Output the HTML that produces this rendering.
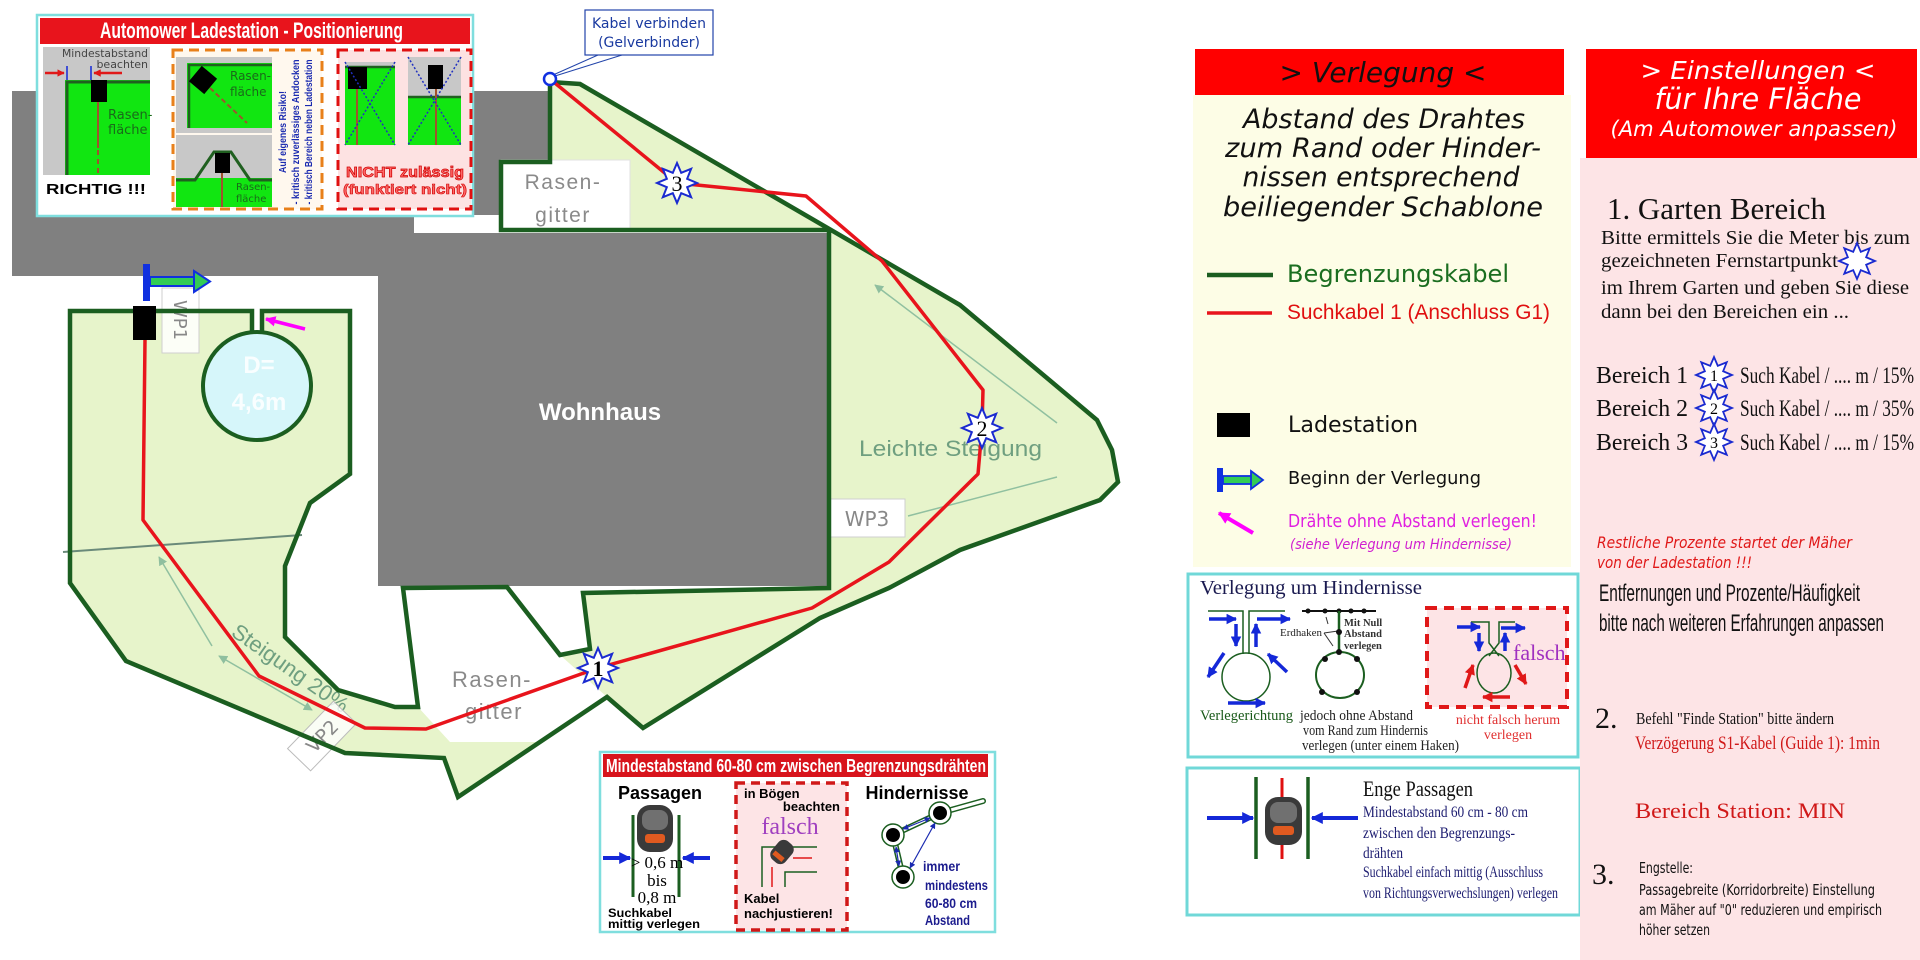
<!DOCTYPE html>
<html><head><meta charset="utf-8">
<style>
html,body{margin:0;padding:0;background:#fff;width:1920px;height:960px;overflow:hidden}
.s{font-family:"Liberation Sans","DejaVu Sans",sans-serif}
.d{font-family:"DejaVu Sans","Liberation Sans",sans-serif}
.r{font-family:"Liberation Serif","DejaVu Serif",serif}
</style></head><body>
<svg width="1920" height="960" viewBox="0 0 1920 960" xmlns="http://www.w3.org/2000/svg">
<defs>
<polygon id="star" points="0,-20 4.21,-10.16 14.14,-14.14 10.16,-4.21 20,0 10.16,4.21 14.14,14.14 4.21,10.16 0,20 -4.21,10.16 -14.14,14.14 -10.16,4.21 -20,0 -10.16,-4.21 -14.14,-14.14 -4.21,-10.16"/>
<marker id="mb" viewBox="0 0 10 10" refX="9" refY="5" markerWidth="3" markerHeight="3" orient="auto-start-reverse"><path d="M0,0L10,5L0,10z" fill="#1428d8"/></marker>
<marker id="mr" viewBox="0 0 10 10" refX="9" refY="5" markerWidth="3" markerHeight="3" orient="auto-start-reverse"><path d="M0,0L10,5L0,10z" fill="#e01818"/></marker>
<marker id="mm" viewBox="0 0 10 10" refX="9" refY="5" markerWidth="3" markerHeight="3" orient="auto-start-reverse"><path d="M0,0L10,5L0,10z" fill="#ff00ff"/></marker>
<marker id="mg" viewBox="0 0 10 10" refX="9" refY="5" markerWidth="6" markerHeight="6" orient="auto-start-reverse"><path d="M0,0L10,5L0,10z" fill="#8fbf9f"/></marker>
<marker id="mn" viewBox="0 0 10 10" refX="9" refY="5" markerWidth="5" markerHeight="5" orient="auto-start-reverse"><path d="M0,0L10,5L0,10z" fill="#1a2ab0"/></marker>
</defs>

<!-- ================= MAP ================= -->
<polygon points="12,91 550,91 550,162 501,162 501,215 414,215 414,234 378,234 378,276 12,276" fill="#808080"/>
<rect x="378" y="233" width="451" height="353" fill="#808080"/>

<polygon points="70,311 252,311 252,334 262,334 262,311 350,311 350,474 310,503 285,566 285,637 338,690 395,707 418,707 403,588 507,587 560,655 590,649 583,593 829,588 829,230 501,230 501,162 550,162 550,82 580,84 960,305 1097,420 1112,450 1118,482 1100,500 960,550 889,588 820,618 643,728 607,697 458,797 444,758 345,753 126,661 70,583" fill="#e7f4cb"/>
<polygon points="403,588 507,587 560,655 607,697 540,742 450,742 418,707" fill="#fff"/>
<rect x="501" y="160" width="129" height="70" fill="#fff" stroke="#e2e2e2" stroke-width="1"/>

<text x="563" y="189" class="s" font-size="21" fill="#8a8a8a" text-anchor="middle" letter-spacing="1.5">Rasen-</text>
<text x="563" y="222" class="s" font-size="21" fill="#8a8a8a" text-anchor="middle" letter-spacing="1.5">gitter</text>
<text x="492" y="687" class="s" font-size="22" fill="#8a8a8a" text-anchor="middle" letter-spacing="1.5">Rasen-</text>
<text x="494" y="719" class="s" font-size="22" fill="#8a8a8a" text-anchor="middle" letter-spacing="1.5">gitter</text>

<line x1="63" y1="552" x2="302" y2="535" stroke="#6a8a7a" stroke-width="2"/>
<line x1="212" y1="646" x2="159" y2="557" stroke="#90c0a0" stroke-width="1.5" marker-end="url(#mg)"/>
<line x1="219" y1="656" x2="312" y2="710" stroke="#90c0a0" stroke-width="1.5" marker-start="url(#mg)" marker-end="url(#mg)"/>
<line x1="1057" y1="423" x2="875" y2="285" stroke="#90c0a0" stroke-width="1.5" marker-end="url(#mg)"/>
<line x1="908" y1="516" x2="1057" y2="477" stroke="#90c0a0" stroke-width="1.5"/>

<text x="859" y="456" class="s" font-size="22" fill="#6f9f80" textLength="183" lengthAdjust="spacingAndGlyphs">Leichte Steigung</text>
<text x="230" y="635" class="s" font-size="22" fill="#6f9f80" transform="rotate(35 230 635)">Steigung 20%</text>

<rect x="162" y="288" width="37" height="65" fill="#fff" fill-opacity="0.85" stroke="#cfcfcf"/>
<text x="181" y="327" class="d" font-size="18" fill="#888" text-anchor="middle" transform="rotate(90 181 320)">WP1</text>
<rect x="829" y="499" width="76" height="38" fill="#fff" stroke="#cfcfcf"/>
<text x="867" y="526" class="d" font-size="20" fill="#888" text-anchor="middle">WP3</text>
<g transform="translate(322,736) rotate(-46)">
<rect x="-33" y="-16" width="66" height="32" fill="#fff" fill-opacity="0.8" stroke="#bbb"/>
<text x="0" y="7" class="d" font-size="19" fill="#888" text-anchor="middle">VP2</text>
</g>

<polygon points="70,311 252,311 252,334 262,334 262,311 350,311 350,474 310,503 285,566 285,637 338,690 395,707 418,707 403,588 507,587 560,655 590,649 583,593 829,588 829,230 501,230 501,162 550,162 550,82 580,84 960,305 1097,420 1112,450 1118,482 1100,500 960,550 889,588 820,618 643,728 607,697 458,797 444,758 345,753 126,661 70,583" fill="none" stroke="#1b5e20" stroke-width="4.5" stroke-linejoin="miter"/>

<circle cx="257" cy="386" r="54" fill="#d6f6fa" stroke="#1b5e20" stroke-width="4"/>
<text x="259" y="373" class="s" font-size="24" font-weight="bold" fill="#fff" fill-opacity="0.85" text-anchor="middle">D=</text>
<text x="259" y="410" class="s" font-size="24" font-weight="bold" fill="#fff" fill-opacity="0.85" text-anchor="middle">4,6m</text>

<text x="600" y="420" class="s" font-size="24" font-weight="bold" fill="#fff" text-anchor="middle">Wohnhaus</text>

<polyline points="145,340 143,520 259,676 365,728 426,729 598,668 812,608 889,562 978,474 982,428 983,390 882,261 806,196 677,183 550,79" fill="none" stroke="#e8141c" stroke-width="3.5" stroke-linejoin="round"/>

<rect x="133" y="306" width="23" height="34" fill="#000"/>
<rect x="143" y="264" width="7" height="37" fill="#1030e0"/>
<rect x="150" y="277" width="45" height="9" fill="#33cc55" stroke="#1030e0" stroke-width="2"/>
<polygon points="194,271 210,281.5 194,292" fill="#33cc55" stroke="#1030e0" stroke-width="2"/>
<line x1="305" y1="329" x2="266" y2="319" stroke="#ff00ff" stroke-width="3.5" marker-end="url(#mm)"/>

<line x1="553" y1="75" x2="598" y2="55" stroke="#2244aa" stroke-width="1"/>
<line x1="555" y1="76" x2="622" y2="55" stroke="#2244aa" stroke-width="1"/>
<circle cx="550" cy="79" r="6" fill="#fff" stroke="#1030e0" stroke-width="2.5"/>
<rect x="585" y="10" width="128" height="45" fill="#fff" stroke="#2244aa" stroke-width="1.2"/>
<text x="649" y="28" class="d" font-size="14" fill="#1a3aa0" text-anchor="middle">Kabel verbinden</text>
<text x="649" y="47" class="d" font-size="14" fill="#1a3aa0" text-anchor="middle">(Gelverbinder)</text>

<use href="#star" x="598" y="668" fill="#fff" stroke="#1a2ad0" stroke-width="2"/>
<text x="598" y="676" class="r" font-size="22" font-weight="bold" text-anchor="middle">1</text>
<use href="#star" x="982" y="428" fill="#fff" stroke="#1a2ad0" stroke-width="2"/>
<text x="982" y="436" class="r" font-size="22" text-anchor="middle">2</text>
<use href="#star" x="677" y="183" fill="#fff" stroke="#1a2ad0" stroke-width="2"/>
<text x="677" y="191" class="r" font-size="22" text-anchor="middle">3</text>

<!-- ================= TOP-LEFT INSET ================= -->
<rect x="37" y="15" width="436" height="201" fill="#fff" stroke="#7fdede" stroke-width="2.5"/>
<rect x="40" y="18" width="430" height="26" fill="#e8141c"/>
<text x="100" y="38" class="s" font-size="22" font-weight="bold" fill="#fff" textLength="303" lengthAdjust="spacingAndGlyphs">Automower Ladestation - Positionierung</text>
<!-- panel 1 -->
<rect x="43" y="47" width="107" height="128" fill="#c8c8c8"/>
<rect x="65" y="80" width="85" height="95" fill="#11e611"/>
<polyline points="67,175 67,82 150,82" fill="none" stroke="#206020" stroke-width="3"/>
<text x="62" y="57" class="d" font-size="11" fill="#444" textLength="86" lengthAdjust="spacingAndGlyphs">Mindestabstand</text>
<text x="148" y="68" class="d" font-size="11" fill="#444" text-anchor="end">beachten</text>
<line x1="45" y1="73" x2="64" y2="73" stroke="#e01818" stroke-width="2.5" marker-end="url(#mr)"/>
<line x1="122" y1="73" x2="94" y2="73" stroke="#e01818" stroke-width="2.5" marker-end="url(#mr)"/>
<line x1="67" y1="66" x2="67" y2="80" stroke="#1428d8" stroke-width="1.5"/>
<line x1="91" y1="66" x2="91" y2="80" stroke="#1428d8" stroke-width="1.5"/>
<rect x="91" y="80" width="16" height="22" fill="#000"/>
<line x1="98" y1="102" x2="98" y2="148" stroke="#a0522d" stroke-width="2"/>
<line x1="98" y1="150" x2="98" y2="175" stroke="#a0522d" stroke-width="2" stroke-dasharray="5,4"/>
<text x="108" y="119" class="d" font-size="13" fill="#1a6a1a">Rasen-</text>
<text x="108" y="134" class="d" font-size="13" fill="#1a6a1a">fläche</text>
<text x="46" y="194" class="s" font-size="15" font-weight="bold" fill="#000" textLength="100" lengthAdjust="spacingAndGlyphs">RICHTIG !!!</text>
<!-- panel 2 -->
<rect x="173" y="50" width="149" height="159" fill="#fff8ee" stroke="#e8801a" stroke-width="3" stroke-dasharray="10,6"/>
<rect x="176" y="57" width="96" height="76" fill="#c8c8c8"/>
<rect x="187" y="63" width="85" height="65" fill="#11e611"/>
<polyline points="189,128 189,65 272,65" fill="none" stroke="#206020" stroke-width="2.5"/>
<line x1="210" y1="88" x2="247" y2="123" stroke="#a0522d" stroke-width="2" stroke-dasharray="5,3"/>
<rect x="193" y="70" width="20" height="20" fill="#000" transform="rotate(40 203 80)"/>
<text x="230" y="80" class="d" font-size="12" fill="#1a6a1a">Rasen-</text>
<text x="230" y="96" class="d" font-size="12" fill="#1a6a1a">fläche</text>
<rect x="176" y="135" width="96" height="72" fill="#c8c8c8"/>
<rect x="176" y="178" width="96" height="29" fill="#11e611"/>
<polyline points="176,180 195,180 214,152 231,152 250,180 272,180" fill="none" stroke="#206020" stroke-width="3"/>
<line x1="222" y1="173" x2="222" y2="207" stroke="#a0522d" stroke-width="2"/>
<rect x="215" y="153" width="15" height="20" fill="#000"/>
<text x="236" y="190" class="d" font-size="10" fill="#1a6a1a">Rasen-</text>
<text x="236" y="202" class="d" font-size="10" fill="#1a6a1a">fläche</text>
<text x="286" y="132" class="s" font-size="10.5" font-weight="bold" fill="#1a2ab0" text-anchor="middle" transform="rotate(-90 286 132)" textLength="82" lengthAdjust="spacingAndGlyphs">Auf eigenes Risiko!</text>
<text x="299" y="132" class="s" font-size="10.5" font-weight="bold" fill="#1a2ab0" text-anchor="middle" transform="rotate(-90 299 132)" textLength="145" lengthAdjust="spacingAndGlyphs">- kritisch zuverlässiges Andocken</text>
<text x="312" y="132" class="s" font-size="10.5" font-weight="bold" fill="#1a2ab0" text-anchor="middle" transform="rotate(-90 312 132)" textLength="145" lengthAdjust="spacingAndGlyphs">- kritisch Bereich neben Ladestation</text>
<!-- panel 3 -->
<rect x="338" y="50" width="133" height="159" fill="#fde2e2" stroke="#e01010" stroke-width="3" stroke-dasharray="10,6"/>
<rect x="345" y="62" width="50" height="83" fill="#c8c8c8"/>
<rect x="345" y="66" width="50" height="79" fill="#11e611"/>
<line x1="345" y1="67" x2="395" y2="67" stroke="#206020" stroke-width="2.5"/>
<line x1="357" y1="89" x2="357" y2="145" stroke="#a0522d" stroke-width="2"/>
<rect x="348" y="67" width="19" height="22" fill="#000"/>
<line x1="345" y1="62" x2="395" y2="145" stroke="#2030c0" stroke-width="1.5" stroke-dasharray="2,2"/>
<line x1="395" y1="62" x2="345" y2="145" stroke="#2030c0" stroke-width="1.5" stroke-dasharray="2,2"/>
<rect x="408" y="57" width="53" height="88" fill="#c8c8c8"/>
<rect x="408" y="96" width="53" height="49" fill="#11e611"/>
<line x1="408" y1="97" x2="461" y2="97" stroke="#206020" stroke-width="2.5"/>
<line x1="436" y1="89" x2="436" y2="145" stroke="#a0522d" stroke-width="2"/>
<rect x="428" y="65" width="15" height="24" fill="#000"/>
<line x1="408" y1="57" x2="461" y2="145" stroke="#2030c0" stroke-width="1.5" stroke-dasharray="2,2"/>
<line x1="461" y1="57" x2="408" y2="145" stroke="#2030c0" stroke-width="1.5" stroke-dasharray="2,2"/>
<text x="405" y="177" class="s" font-size="15" font-weight="bold" fill="#ff6a6a" stroke="#d00000" stroke-width="0.7" text-anchor="middle" textLength="118" lengthAdjust="spacingAndGlyphs">NICHT zulässig</text>
<text x="405" y="194" class="s" font-size="14" font-weight="bold" fill="#ff6a6a" stroke="#d00000" stroke-width="0.6" text-anchor="middle" textLength="124" lengthAdjust="spacingAndGlyphs">(funktiert nicht)</text>

<!-- ================= BOTTOM INSET ================= -->
<rect x="600" y="752" width="395" height="180" fill="#fff" stroke="#7fdede" stroke-width="2.5"/>
<rect x="603" y="754" width="385" height="23" fill="#d8141c"/>
<text x="606" y="772" class="s" font-size="18" font-weight="bold" fill="#fff" textLength="380" lengthAdjust="spacingAndGlyphs">Mindestabstand 60-80 cm zwischen Begrenzungsdrähten</text>
<text x="660" y="799" class="s" font-size="18" font-weight="bold" fill="#000" text-anchor="middle">Passagen</text>
<line x1="633" y1="815" x2="633" y2="897" stroke="#1b5e20" stroke-width="3"/>
<line x1="679" y1="815" x2="679" y2="897" stroke="#1b5e20" stroke-width="3"/>
<g transform="translate(655,828)">
<rect x="-18" y="-23" width="36" height="47" rx="13" fill="#3a3a3a"/>
<rect x="-13" y="-18" width="26" height="20" rx="8" fill="#707070"/>
<rect x="-10" y="6" width="20" height="9" rx="3" fill="#e05a20"/>
</g>
<line x1="603" y1="858" x2="630" y2="858" stroke="#1428d8" stroke-width="4" marker-end="url(#mb)"/>
<line x1="710" y1="858" x2="683" y2="858" stroke="#1428d8" stroke-width="4" marker-end="url(#mb)"/>
<text x="657" y="868" class="r" font-size="17" text-anchor="middle">&gt; 0,6 m</text>
<text x="657" y="886" class="r" font-size="17" text-anchor="middle">bis</text>
<text x="657" y="903" class="r" font-size="17" text-anchor="middle">0,8 m</text>
<text x="608" y="917" class="s" font-size="12" font-weight="bold" textLength="64" lengthAdjust="spacingAndGlyphs">Suchkabel</text>
<text x="608" y="928" class="s" font-size="12" font-weight="bold" textLength="92" lengthAdjust="spacingAndGlyphs">mittig verlegen</text>
<rect x="736" y="783" width="111" height="147" fill="#fde4e6" stroke="#d01818" stroke-width="3.5" stroke-dasharray="9,6"/>
<text x="744" y="798" class="s" font-size="13" font-weight="bold">in Bögen</text>
<text x="840" y="811" class="s" font-size="13" font-weight="bold" text-anchor="end">beachten</text>
<text x="790" y="834" class="r" font-size="24" fill="#a040c0" text-anchor="middle">falsch</text>
<polyline points="762,887 762,847 817,847" fill="none" stroke="#1b5e20" stroke-width="1.5"/>
<polyline points="785,887 785,872 817,872" fill="none" stroke="#1b5e20" stroke-width="1.5"/>
<line x1="772" y1="867" x2="772" y2="887" stroke="#e01818" stroke-width="1.5"/>
<line x1="793" y1="858" x2="812" y2="858" stroke="#e01818" stroke-width="1.5"/>
<g transform="translate(782,852) rotate(40)"><rect x="-9" y="-12" width="18" height="24" rx="7" fill="#3a3a3a"/><rect x="-6" y="3" width="12" height="5" fill="#e05a20"/></g>
<text x="744" y="903" class="s" font-size="13" font-weight="bold">Kabel</text>
<text x="744" y="918" class="s" font-size="13" font-weight="bold">nachjustieren!</text>
<text x="917" y="799" class="s" font-size="18" font-weight="bold" text-anchor="middle">Hindernisse</text>
<g stroke="#1b5e20" stroke-width="6" stroke-linecap="round"><line x1="893" y1="835" x2="940" y2="813"/><line x1="893" y1="835" x2="903" y2="877"/><line x1="940" y1="813" x2="983" y2="801"/></g>
<g stroke="#fff" stroke-width="3" stroke-linecap="round"><line x1="893" y1="835" x2="940" y2="813"/><line x1="893" y1="835" x2="903" y2="877"/><line x1="940" y1="813" x2="983" y2="801"/></g>
<g fill="#fff" stroke="#1b5e20" stroke-width="1.5"><circle cx="893" cy="835" r="11"/><circle cx="940" cy="813" r="11"/><circle cx="903" cy="877" r="11"/></g>
<g fill="#000"><circle cx="893" cy="835" r="7"/><circle cx="940" cy="813" r="7"/><circle cx="903" cy="877" r="7"/></g>
<line x1="903" y1="829" x2="930" y2="818" stroke="#1a2ab0" stroke-width="1.2" marker-start="url(#mn)" marker-end="url(#mn)"/>
<line x1="896" y1="847" x2="899" y2="866" stroke="#1a2ab0" stroke-width="1.2" marker-start="url(#mn)" marker-end="url(#mn)"/>
<line x1="910" y1="868" x2="935" y2="823" stroke="#1a2ab0" stroke-width="1.2" marker-start="url(#mn)" marker-end="url(#mn)"/>
<text x="923" y="871" class="s" font-size="14" font-weight="bold" fill="#1c1c8e" textLength="37" lengthAdjust="spacingAndGlyphs">immer</text>
<text x="925" y="890" class="s" font-size="14" font-weight="bold" fill="#1c1c8e" textLength="63" lengthAdjust="spacingAndGlyphs">mindestens</text>
<text x="925" y="908" class="s" font-size="14" font-weight="bold" fill="#1c1c8e" textLength="52" lengthAdjust="spacingAndGlyphs">60-80 cm</text>
<text x="925" y="925" class="s" font-size="14" font-weight="bold" fill="#1c1c8e" textLength="45" lengthAdjust="spacingAndGlyphs">Abstand</text>

<!-- ================= VERLEGUNG COLUMN ================= -->
<rect x="1193" y="95" width="378" height="472" fill="#fdfde6"/>
<rect x="1195" y="49" width="369" height="46" fill="#ff0000"/>
<text x="1383" y="82" class="d" font-size="28" font-style="italic" fill="#111" text-anchor="middle">&gt; Verlegung &lt;</text>
<text x="1384" y="128" class="d" font-size="27" font-style="italic" fill="#111" text-anchor="middle" textLength="282" lengthAdjust="spacingAndGlyphs">Abstand des Drahtes</text>
<text x="1383" y="157" class="d" font-size="27" font-style="italic" fill="#111" text-anchor="middle" textLength="316" lengthAdjust="spacingAndGlyphs">zum Rand oder Hinder-</text>
<text x="1381" y="186" class="d" font-size="27" font-style="italic" fill="#111" text-anchor="middle" textLength="277" lengthAdjust="spacingAndGlyphs">nissen entsprechend</text>
<text x="1383" y="216" class="d" font-size="27" font-style="italic" fill="#111" text-anchor="middle" textLength="320" lengthAdjust="spacingAndGlyphs">beiliegender Schablone</text>

<line x1="1207" y1="275" x2="1273" y2="275" stroke="#1b5e20" stroke-width="4.5"/>
<text x="1287" y="282" class="d" font-size="24" fill="#1b6e20" textLength="222" lengthAdjust="spacingAndGlyphs">Begrenzungskabel</text>
<line x1="1207" y1="313" x2="1272" y2="313" stroke="#e8141c" stroke-width="3.5"/>
<text x="1287" y="319" class="s" font-size="21" fill="#e01010" textLength="263" lengthAdjust="spacingAndGlyphs">Suchkabel 1 (Anschluss G1)</text>
<rect x="1217" y="413" width="33" height="24" fill="#000"/>
<text x="1288" y="432" class="d" font-size="22" fill="#111" textLength="130" lengthAdjust="spacingAndGlyphs">Ladestation</text>
<rect x="1217" y="468" width="6" height="24" fill="#1030e0"/>
<rect x="1223" y="476" width="29" height="8" fill="#33cc55" stroke="#1030e0" stroke-width="1.8"/>
<polygon points="1251,471 1263,480 1251,489" fill="#33cc55" stroke="#1030e0" stroke-width="1.8"/>
<text x="1288" y="484" class="d" font-size="18" fill="#111" textLength="193" lengthAdjust="spacingAndGlyphs">Beginn der Verlegung</text>
<line x1="1253" y1="533" x2="1219" y2="513" stroke="#ff00ff" stroke-width="4" marker-end="url(#mm)"/>
<text x="1288" y="527" class="d" font-size="18" fill="#e020e0" textLength="249" lengthAdjust="spacingAndGlyphs">Drähte ohne Abstand verlegen!</text>
<text x="1290" y="549" class="d" font-size="14" font-style="italic" fill="#d020d0" textLength="222" lengthAdjust="spacingAndGlyphs">(siehe Verlegung um Hindernisse)</text>

<!-- Verlegung um Hindernisse -->
<rect x="1188" y="574" width="390" height="183" fill="#fff" stroke="#70d8d8" stroke-width="3"/>
<text x="1200" y="594" class="r" font-size="20" fill="#1a1a50" textLength="222" lengthAdjust="spacingAndGlyphs">Verlegung um Hindernisse</text>
<g fill="none" stroke="#1b5e20" stroke-width="1.5">
<polyline points="1208,611 1243,611 1243,654"/><polyline points="1285,611 1249,611 1249,654"/>
<circle cx="1246" cy="677" r="24"/>
</g>
<g stroke="#1428d8" stroke-width="3.5">
<line x1="1209" y1="619" x2="1236" y2="619" marker-end="url(#mb)"/>
<line x1="1257" y1="619" x2="1290" y2="619" marker-end="url(#mb)"/>
<line x1="1236" y1="624" x2="1236" y2="646" marker-end="url(#mb)"/>
<line x1="1256" y1="647" x2="1256" y2="624" marker-end="url(#mb)"/>
<line x1="1224" y1="653" x2="1208" y2="677" marker-end="url(#mb)"/>
<line x1="1287" y1="672" x2="1268" y2="654" marker-end="url(#mb)"/>
<line x1="1228" y1="703" x2="1265" y2="703" marker-end="url(#mb)"/>
</g>
<text x="1200" y="720" class="r" font-size="15" fill="#1a5a1a" textLength="93" lengthAdjust="spacingAndGlyphs">Verlegerichtung</text>
<line x1="1302" y1="611" x2="1376" y2="611" stroke="#111" stroke-width="2"/>
<g fill="#111"><circle cx="1308" cy="611" r="2.5"/><circle cx="1325" cy="611" r="2.5"/><circle cx="1339" cy="611" r="2.5"/><circle cx="1351" cy="611" r="2.5"/><circle cx="1364" cy="611" r="2.5"/></g>
<line x1="1339" y1="611" x2="1339" y2="652" stroke="#1b5e20" stroke-width="2.5"/>
<line x1="1324" y1="633" x2="1338" y2="631" stroke="#333" stroke-width="1"/>
<line x1="1324" y1="633" x2="1333" y2="646" stroke="#333" stroke-width="1"/>
<line x1="1328" y1="624" x2="1326" y2="617" stroke="#333" stroke-width="1"/>
<text x="1280" y="636" class="r" font-size="10.5" fill="#222" textLength="42" lengthAdjust="spacingAndGlyphs">Erdhaken</text>
<ellipse cx="1340" cy="675" rx="24" ry="23" fill="none" stroke="#1b5e20" stroke-width="2"/>
<g fill="#111"><circle cx="1339" cy="632" r="3"/><circle cx="1339" cy="652" r="3"/><circle cx="1325" cy="659" r="3"/><circle cx="1357" cy="659" r="3"/><circle cx="1322" cy="692" r="3"/><circle cx="1357" cy="692" r="3"/></g>
<text x="1344" y="626" class="r" font-size="10.5" font-weight="bold" fill="#333">Mit Null</text>
<text x="1344" y="637" class="r" font-size="10.5" font-weight="bold" fill="#333">Abstand</text>
<text x="1344" y="649" class="r" font-size="10.5" font-weight="bold" fill="#333">verlegen</text>
<text x="1300" y="720" class="r" font-size="15" fill="#222" textLength="113" lengthAdjust="spacingAndGlyphs">jedoch ohne Abstand</text>
<text x="1303" y="735" class="r" font-size="15" fill="#222" textLength="125" lengthAdjust="spacingAndGlyphs">vom Rand zum Hindernis</text>
<text x="1302" y="750" class="r" font-size="15" fill="#222" textLength="157" lengthAdjust="spacingAndGlyphs">verlegen (unter einem Haken)</text>
<rect x="1427" y="608" width="140" height="99" fill="#fde4e6" stroke="#e01818" stroke-width="4" stroke-dasharray="10,7"/>
<g fill="none" stroke="#1b5e20" stroke-width="1.5">
<polyline points="1471,622 1489,622 1489,643 1499,656"/><polyline points="1515,622 1499,622 1499,643 1489,656"/>
<ellipse cx="1494" cy="673" rx="17" ry="20"/>
</g>
<g stroke="#1428d8" stroke-width="3.5">
<line x1="1457" y1="627" x2="1480" y2="627" marker-end="url(#mb)"/>
<line x1="1501" y1="628" x2="1525" y2="628" marker-end="url(#mb)"/>
<line x1="1479" y1="633" x2="1479" y2="651" marker-end="url(#mb)"/>
<line x1="1505" y1="651" x2="1505" y2="633" marker-end="url(#mb)"/>
</g>
<g stroke="#e01818" stroke-width="3.5">
<line x1="1465" y1="688" x2="1473" y2="665" marker-end="url(#mr)"/>
<line x1="1515" y1="665" x2="1526" y2="684" marker-end="url(#mr)"/>
<line x1="1510" y1="697" x2="1483" y2="697" marker-end="url(#mr)"/>
</g>
<text x="1513" y="660" class="r" font-size="22" fill="#a030c0">falsch</text>
<text x="1508" y="724" class="r" font-size="14" fill="#e03030" text-anchor="middle">nicht falsch herum</text>
<text x="1508" y="739" class="r" font-size="14" fill="#e03030" text-anchor="middle">verlegen</text>

<!-- Enge Passagen -->
<rect x="1187" y="768" width="393" height="147" fill="#fff" stroke="#70d8d8" stroke-width="3"/>
<line x1="1282" y1="778" x2="1282" y2="859" stroke="#e01010" stroke-width="3"/>
<line x1="1256" y1="777" x2="1256" y2="859" stroke="#1b5e20" stroke-width="3.5"/>
<line x1="1308" y1="777" x2="1308" y2="859" stroke="#1b5e20" stroke-width="3.5"/>
<g transform="translate(1283,821)">
<rect x="-18" y="-24" width="37" height="48" rx="13" fill="#3a3a3a"/>
<rect x="-13" y="-19" width="27" height="21" rx="8" fill="#707070"/>
<rect x="-10" y="5" width="21" height="9" rx="3" fill="#e05a20"/>
</g>
<line x1="1207" y1="818" x2="1253" y2="818" stroke="#1428d8" stroke-width="4" marker-end="url(#mb)"/>
<line x1="1358" y1="818" x2="1312" y2="818" stroke="#1428d8" stroke-width="4" marker-end="url(#mb)"/>
<text x="1363" y="796" class="r" font-size="22" fill="#111" textLength="110" lengthAdjust="spacingAndGlyphs">Enge Passagen</text>
<text x="1363" y="817" class="r" font-size="16" fill="#1c1c70" textLength="165" lengthAdjust="spacingAndGlyphs">Mindestabstand 60 cm - 80 cm</text>
<text x="1363" y="838" class="r" font-size="16" fill="#1c1c70" textLength="152" lengthAdjust="spacingAndGlyphs">zwischen den Begrenzungs-</text>
<text x="1363" y="858" class="r" font-size="16" fill="#1c1c70" textLength="40" lengthAdjust="spacingAndGlyphs">drähten</text>
<text x="1363" y="877" class="r" font-size="16" fill="#1c1c70" textLength="180" lengthAdjust="spacingAndGlyphs">Suchkabel einfach mittig (Ausschluss</text>
<text x="1363" y="898" class="r" font-size="16" fill="#1c1c70" textLength="195" lengthAdjust="spacingAndGlyphs">von Richtungsverwechslungen) verlegen</text>

<!-- ================= EINSTELLUNGEN COLUMN ================= -->
<rect x="1580" y="158" width="340" height="802" fill="#fde4e6"/>
<rect x="1586" y="49" width="331" height="109" fill="#ff0000"/>
<text x="1758" y="79" class="d" font-size="25" font-style="italic" fill="#fff" text-anchor="middle" textLength="235" lengthAdjust="spacingAndGlyphs">&gt; Einstellungen &lt;</text>
<text x="1758" y="109" class="d" font-size="29" font-style="italic" fill="#fff" text-anchor="middle" textLength="207" lengthAdjust="spacingAndGlyphs">für Ihre Fläche</text>
<text x="1754" y="136" class="d" font-size="21" font-style="italic" fill="#fff" text-anchor="middle" textLength="287" lengthAdjust="spacingAndGlyphs">(Am Automower anpassen)</text>

<text x="1607" y="219" class="r" font-size="31" fill="#111" textLength="219" lengthAdjust="spacingAndGlyphs">1. Garten Bereich</text>
<text x="1601" y="244" class="r" font-size="20" fill="#111" textLength="309" lengthAdjust="spacingAndGlyphs">Bitte ermittels Sie die Meter bis zum</text>
<text x="1601" y="267" class="r" font-size="20" fill="#111" textLength="237" lengthAdjust="spacingAndGlyphs">gezeichneten Fernstartpunkt</text>
<use href="#star" transform="translate(1857,261) scale(0.9)" fill="#fff" stroke="#1a2ad0" stroke-width="2"/>
<text x="1601" y="294" class="r" font-size="20" fill="#111" textLength="308" lengthAdjust="spacingAndGlyphs">im Ihrem Garten und geben Sie diese</text>
<text x="1601" y="318" class="r" font-size="20" fill="#111" textLength="248" lengthAdjust="spacingAndGlyphs">dann bei den Bereichen ein ...</text>

<text x="1596" y="383" class="r" font-size="24" fill="#111" textLength="92" lengthAdjust="spacingAndGlyphs">Bereich 1</text>
<use href="#star" transform="translate(1714,375) scale(0.9)" fill="#fff" stroke="#1a2ad0" stroke-width="2"/>
<text x="1714" y="381" class="r" font-size="16" text-anchor="middle">1</text>
<text x="1740" y="383" class="r" font-size="23" fill="#111" textLength="174" lengthAdjust="spacingAndGlyphs">Such Kabel / .... m / 15%</text>
<text x="1596" y="416" class="r" font-size="24" fill="#111" textLength="92" lengthAdjust="spacingAndGlyphs">Bereich 2</text>
<use href="#star" transform="translate(1714,408) scale(0.9)" fill="#fff" stroke="#1a2ad0" stroke-width="2"/>
<text x="1714" y="414" class="r" font-size="16" text-anchor="middle">2</text>
<text x="1740" y="416" class="r" font-size="23" fill="#111" textLength="174" lengthAdjust="spacingAndGlyphs">Such Kabel / .... m / 35%</text>
<text x="1596" y="450" class="r" font-size="24" fill="#111" textLength="92" lengthAdjust="spacingAndGlyphs">Bereich 3</text>
<use href="#star" transform="translate(1714,442) scale(0.9)" fill="#fff" stroke="#1a2ad0" stroke-width="2"/>
<text x="1714" y="448" class="r" font-size="16" text-anchor="middle">3</text>
<text x="1740" y="450" class="r" font-size="23" fill="#111" textLength="174" lengthAdjust="spacingAndGlyphs">Such Kabel / .... m / 15%</text>

<text x="1597" y="548" class="d" font-size="16" font-style="italic" fill="#e01818" textLength="255" lengthAdjust="spacingAndGlyphs">Restliche Prozente  startet der Mäher</text>
<text x="1597" y="568" class="d" font-size="16" font-style="italic" fill="#e01818" textLength="155" lengthAdjust="spacingAndGlyphs">von der Ladestation !!!</text>
<text x="1599" y="601" class="s" font-size="24" fill="#111" textLength="261" lengthAdjust="spacingAndGlyphs">Entfernungen und Prozente/Häufigkeit</text>
<text x="1599" y="631" class="s" font-size="24" fill="#111" textLength="285" lengthAdjust="spacingAndGlyphs">bitte nach weiteren Erfahrungen anpassen</text>

<text x="1595" y="728" class="r" font-size="30" fill="#111">2.</text>
<text x="1636" y="724" class="r" font-size="17" fill="#111" textLength="198" lengthAdjust="spacingAndGlyphs">Befehl &quot;Finde Station&quot; bitte ändern</text>
<text x="1635" y="749" class="r" font-size="19" fill="#d01818" textLength="245" lengthAdjust="spacingAndGlyphs">Verzögerung S1-Kabel (Guide 1): 1min</text>
<text x="1635" y="818" class="r" font-size="22" fill="#d01818" textLength="210" lengthAdjust="spacingAndGlyphs">Bereich Station: MIN</text>

<text x="1592" y="884" class="r" font-size="30" fill="#111">3.</text>
<text x="1639" y="873" class="d" font-size="15" fill="#111" textLength="54" lengthAdjust="spacingAndGlyphs">Engstelle:</text>
<text x="1639" y="895" class="d" font-size="15" fill="#111" textLength="236" lengthAdjust="spacingAndGlyphs">Passagebreite (Korridorbreite) Einstellung</text>
<text x="1639" y="915" class="d" font-size="15" fill="#111" textLength="243" lengthAdjust="spacingAndGlyphs">am Mäher auf &quot;0&quot; reduzieren und empirisch</text>
<text x="1639" y="935" class="d" font-size="15" fill="#111" textLength="71" lengthAdjust="spacingAndGlyphs">höher setzen</text>
</svg>
</body></html>
